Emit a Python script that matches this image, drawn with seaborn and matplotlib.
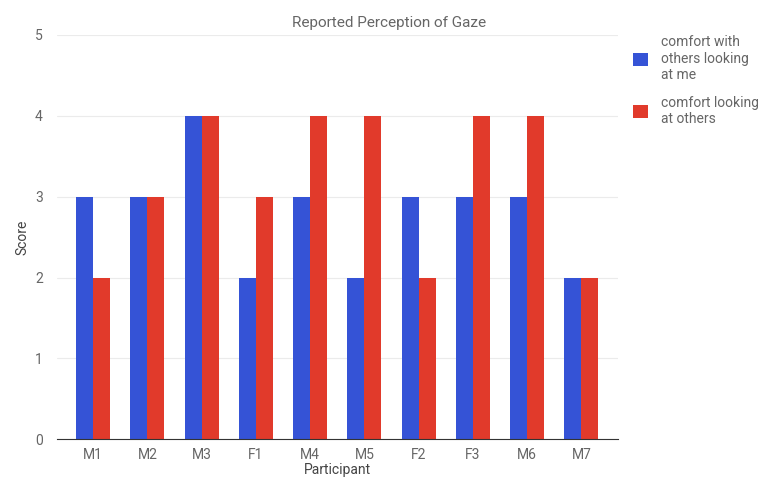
import pandas as pd
import matplotlib.pyplot as plt
import seaborn as sns

participants = ['M1', 'M2', 'M3', 'F1', 'M4', 'M5', 'F2', 'F3', 'M6', 'M7']
looking_at_me = [3, 3, 4, 2, 3, 2, 3, 3, 3, 2]
looking_at_others = [2, 3, 4, 3, 4, 4, 2, 4, 4, 2]
series_names = ['comfort with\nothers looking\nat me', 'comfort looking\nat others']

df = pd.DataFrame({
    'Participant': participants * 2,
    'Score': looking_at_me + looking_at_others,
    'series': [series_names[0]] * len(participants) + [series_names[1]] * len(participants),
})

sns.set_style('white')
plt.rcParams['font.family'] = ['Roboto', 'DejaVu Sans']

fig = plt.figure(figsize=(7.78, 4.79), dpi=100)
ax = fig.add_axes([0.073, 0.083, 0.721, 0.844])

palette = {series_names[0]: '#3553d6', series_names[1]: '#e13a2b'}
sns.barplot(data=df, x='Participant', y='Score', hue='series', palette=palette,
            width=0.63, gap=0, saturation=1, linewidth=0, ax=ax, legend=True)

ax.set_xlim(-0.67, 9.67)
ax.set_ylim(0, 5)
ax.set_yticks(range(6))
ax.yaxis.grid(True, color='#ebebeb', linewidth=0.8)
ax.set_axisbelow(True)
for s in ['top', 'right', 'left']:
    ax.spines[s].set_visible(False)
ax.spines['bottom'].set_color('#333333')
ax.tick_params(axis='both', length=0, colors='#666666', labelsize=10)
ax.tick_params(axis='y', pad=10)
ax.tick_params(axis='x', pad=6)
ax.set_xlabel('Participant', fontsize=10, color='#444444', labelpad=1)
ax.set_ylabel('Score', fontsize=10, color='#444444', labelpad=4)
fig.text(0.5, 0.952, 'Reported Perception of Gaze', ha='center', va='center',
         fontsize=11, color='#666666')

ax.legend(loc='upper left', bbox_to_anchor=(1.005, 1.03), frameon=False,
          fontsize=10, labelcolor='#666666', handlelength=1.1, handleheight=1.1,
          handletextpad=0.9, labelspacing=1.0)

fig.savefig('out.png', dpi=100)
